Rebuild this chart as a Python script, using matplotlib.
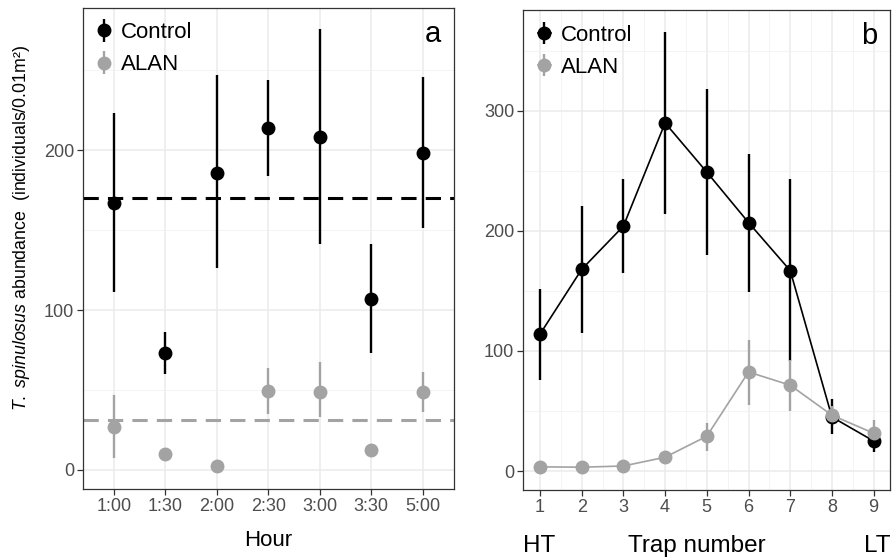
import numpy as np
import matplotlib
matplotlib.use("Agg")
import matplotlib.pyplot as plt

plt.rcParams["font.family"] = ["Liberation Sans", "DejaVu Sans"]
plt.rcParams["mathtext.fontset"] = "custom"
plt.rcParams["mathtext.it"] = "Liberation Sans:italic"
plt.rcParams["mathtext.rm"] = "Liberation Sans"

# panel a: abundance by hour
hours = ["1:00", "1:30", "2:00", "2:30", "3:00", "3:30", "5:00"]
ctrl_hour = [167, 73, 186, 214, 208, 107, 198]
ctrl_hour_lo = [111, 60, 126, 184, 141, 73, 151]
ctrl_hour_hi = [223, 86, 247, 244, 276, 141, 246]
alan_hour = [27, 10, 2.5, 49.5, 48.5, 12.5, 48.5]
alan_hour_lo = [7.5, 10, 2.5, 35, 33, 12.5, 36]
alan_hour_hi = [47, 10, 2.5, 64, 67.5, 12.5, 61]
ctrl_mean = 170
alan_mean = 31

# panel b: abundance by trap
traps = [1, 2, 3, 4, 5, 6, 7, 8, 9]
ctrl_trap = [114, 168, 204, 290, 249, 207, 167, 45, 25]
ctrl_trap_lo = [76, 115, 165, 214, 180, 149, 92, 31, 16]
ctrl_trap_hi = [152, 221, 243, 366, 318, 264, 243, 60, 34]
alan_trap = [3.5, 3.2, 4.2, 11.5, 29, 82.5, 71.5, 46.5, 31.5]
alan_trap_lo = [3.5, 3.2, 4.2, 11.5, 17, 55, 50, 40, 22]
alan_trap_hi = [3.5, 3.2, 4.2, 11.5, 40, 109, 92.5, 54, 42.5]

BLACK = "#000000"
GREY = "#A3A3A3"
TICK_GREY = "#4D4D4D"
W, H = 893, 559


def style_axes(ax):
    for s in ax.spines.values():
        s.set_color("#333333")
        s.set_linewidth(0.9)
    ax.tick_params(axis="both", which="major", color="#333333", length=4,
                   width=0.9, labelsize=13, labelcolor=TICK_GREY, pad=2.5)
    ax.tick_params(axis="both", which="minor", length=0)
    ax.grid(True, which="major", color="#EBEBEB", linewidth=1.1)
    ax.grid(True, which="minor", color="#F2F2F2", linewidth=0.6)
    ax.set_axisbelow(True)


def errbars(ax, x, y, lo, hi, color, line=False):
    y = np.array(y)
    yerr = [y - np.array(lo), np.array(hi) - y]
    return ax.errorbar(x, y, yerr=yerr, fmt="o-" if line else "o",
                       color=color, ms=9, elinewidth=1.7, lw=1.2,
                       capsize=0, zorder=3)


def add_legend(ax, handles):
    ax.legend(handles, ["Control", "ALAN"], loc="upper left", frameon=False,
              fontsize=16, handlelength=0.6, handletextpad=0.45,
              labelspacing=0.5, borderaxespad=0.25,
              bbox_to_anchor=(0.0, 1.0))


fig = plt.figure(figsize=(W / 100, H / 100), dpi=100)
ax1 = fig.add_axes([0.093, 0.125, 0.415, 0.861])
ax2 = fig.add_axes([0.586, 0.123, 0.411, 0.859])

# panel a
xa = np.arange(len(hours))
ax1.axhline(ctrl_mean, color=BLACK, lw=2.2, ls=(0, (5, 3)), zorder=2)
ax1.axhline(alan_mean, color=GREY, lw=2.2, ls=(0, (5, 3)), zorder=2)
h1 = errbars(ax1, xa, ctrl_hour, ctrl_hour_lo, ctrl_hour_hi, BLACK)
h2 = errbars(ax1, xa, alan_hour, alan_hour_lo, alan_hour_hi, GREY)
ax1.set_xlim(-0.6, len(hours) - 0.4)
ax1.set_ylim(-12, 289)
ax1.set_xticks(xa)
ax1.set_xticklabels(hours)
ax1.set_yticks([0, 100, 200])
ax1.set_yticks([50, 150, 250], minor=True)
style_axes(ax1)
fig.text(268 / W, 1 - 546 / H, "Hour", ha="center", va="baseline", fontsize=16)
fig.text(22 / W, 1 - 228 / H,
         r"$\it{T.\ spinulosus}$ abundance  (individuals/0.01m²)",
         rotation=90, ha="center", va="center", fontsize=12.8)
add_legend(ax1, [h1, h2])
ax1.text(0.965, 0.975, "a", transform=ax1.transAxes, ha="right", va="top",
         fontsize=21)

# panel b
h3 = errbars(ax2, traps, ctrl_trap, ctrl_trap_lo, ctrl_trap_hi, BLACK, True)
h4 = errbars(ax2, traps, alan_trap, alan_trap_lo, alan_trap_hi, GREY, True)
ax2.set_xlim(0.6, 9.4)
ax2.set_ylim(-16, 384)
ax2.set_xticks(traps)
ax2.set_xticks(np.arange(1.5, 9.5, 1), minor=True)
ax2.set_yticks([0, 100, 200, 300])
ax2.set_yticks([50, 150, 250, 350], minor=True)
style_axes(ax2)
fig.text(523 / W, 1 - 552 / H, "HT", ha="left", va="baseline", fontsize=17.5)
fig.text(697 / W, 1 - 552 / H, "Trap number", ha="center", va="baseline",
         fontsize=17.5)
fig.text(891 / W, 1 - 552 / H, "LT", ha="right", va="baseline", fontsize=17.5)
add_legend(ax2, [h3, h4])
ax2.text(0.965, 0.975, "b", transform=ax2.transAxes, ha="right", va="top",
         fontsize=21)

fig.savefig("out.png", dpi=100)
